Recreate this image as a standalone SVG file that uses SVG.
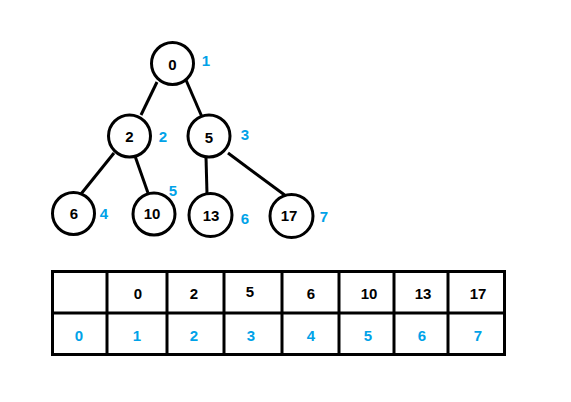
<svg xmlns="http://www.w3.org/2000/svg" width="571" height="402" viewBox="0 0 571 402">
<style>
.n{fill:#fff;stroke:#000;stroke-width:3}
.e{stroke:#000;stroke-width:3;fill:none}
.t{font-family:"Liberation Sans",Arial,sans-serif;font-weight:bold;font-size:15px;text-anchor:middle;dominant-baseline:central;fill:#000}
.b{fill:#00a2e8}
.g{fill:none;stroke:#000;stroke-width:3}
</style>
<rect width="571" height="402" fill="#fff"/>
<g id="connectors">
<line class="e" x1="157" y1="82" x2="141" y2="115"/>
<line class="e" x1="186" y1="80" x2="202" y2="117"/>
<line class="e" x1="114" y1="153" x2="81" y2="194"/>
<line class="e" x1="135" y1="156" x2="148" y2="193"/>
<line class="e" x1="206" y1="157" x2="207" y2="194"/>
<line class="e" x1="228" y1="153" x2="286" y2="196"/>
</g>
<g id="node0"><circle class="n" cx="172.5" cy="63.5" r="21"/><text class="t" x="172.5" y="64">0</text></g>
<g id="node2"><circle class="n" cx="129.5" cy="136" r="21"/><text class="t" x="129.5" y="136">2</text></g>
<g id="node5"><circle class="n" cx="209" cy="136" r="21"/><text class="t" x="209" y="137">5</text></g>
<g id="node6"><circle class="n" cx="73.5" cy="213.5" r="21"/><text class="t" x="74" y="213">6</text></g>
<g id="node10"><circle class="n" cx="154" cy="214" r="21"/><text class="t" x="152" y="213">10</text></g>
<g id="node13"><circle class="n" cx="210.5" cy="215" r="21.5"/><text class="t" x="211" y="215">13</text></g>
<g id="node17"><circle class="n" cx="291.5" cy="216" r="21.5"/><text class="t" x="289" y="215">17</text></g>
<g id="indices">
<text class="t b" x="206" y="60">1</text>
<text class="t b" x="163" y="136">2</text>
<text class="t b" x="245" y="134">3</text>
<text class="t b" x="104" y="213">4</text>
<text class="t b" x="173" y="190">5</text>
<text class="t b" x="245" y="218">6</text>
<text class="t b" x="324" y="216">7</text>
</g>
<g id="table">
<rect class="g" x="52.5" y="271.5" width="452" height="83"/>
<line class="g" x1="52" y1="313" x2="505" y2="313"/>
<line class="g" x1="107" y1="271" x2="107" y2="355"/>
<line class="g" x1="167" y1="271" x2="167" y2="355"/>
<line class="g" x1="224" y1="271" x2="224" y2="355"/>
<line class="g" x1="282" y1="271" x2="282" y2="355"/>
<line class="g" x1="339" y1="271" x2="339" y2="355"/>
<line class="g" x1="394" y1="271" x2="394" y2="355"/>
<line class="g" x1="448" y1="271" x2="448" y2="355"/>
<text class="t" x="138" y="293">0</text>
<text class="t" x="194" y="293">2</text>
<text class="t" x="250" y="291">5</text>
<text class="t" x="311" y="293">6</text>
<text class="t" x="369" y="293">10</text>
<text class="t" x="423" y="293">13</text>
<text class="t" x="478" y="293">17</text>
<text class="t b" x="79" y="335">0</text>
<text class="t b" x="137" y="335">1</text>
<text class="t b" x="194" y="335">2</text>
<text class="t b" x="251" y="335">3</text>
<text class="t b" x="311" y="335">4</text>
<text class="t b" x="368" y="335">5</text>
<text class="t b" x="422" y="335">6</text>
<text class="t b" x="478" y="335">7</text>
</g>
</svg>
